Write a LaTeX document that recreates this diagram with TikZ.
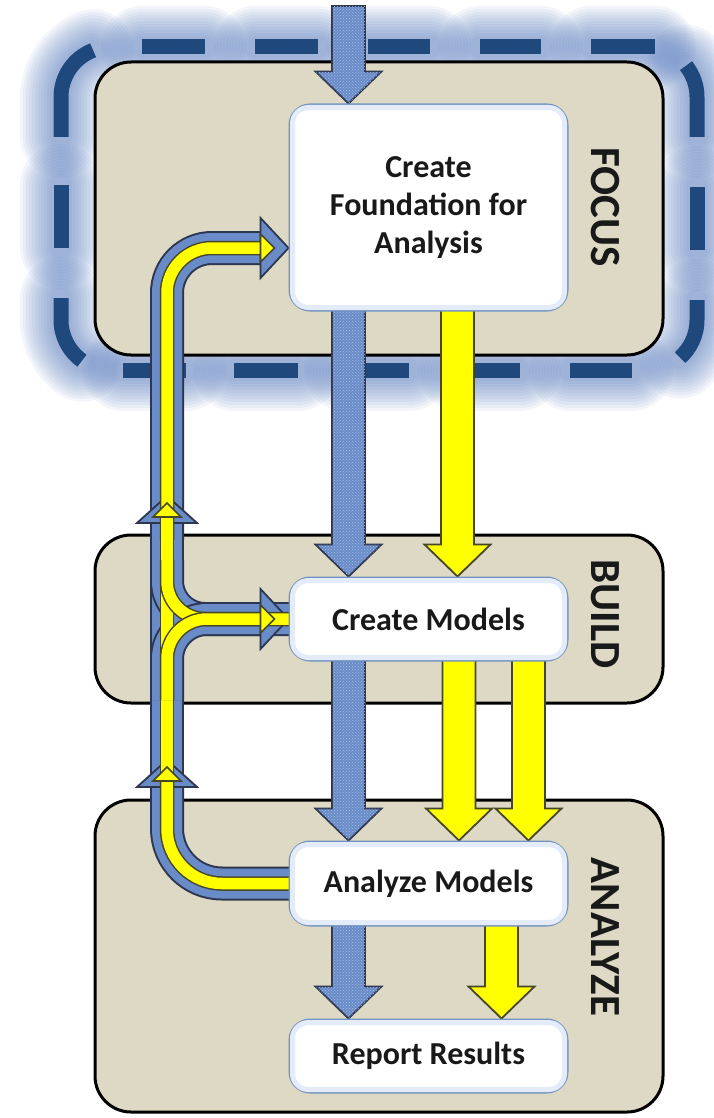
\documentclass[tikz,border=0pt]{standalone}
\usepackage{fontspec}
\setmainfont{Carlito}
\usetikzlibrary{patterns}
\pgfdeclarelayer{bg}
\pgfdeclarelayer{flow}
\pgfsetlayers{bg,flow,main}

\definecolor{paneltan}{RGB}{221,217,196}
\definecolor{dashblue}{RGB}{31,73,125}
\definecolor{glowblue}{RGB}{95,130,195}
\definecolor{boxline}{RGB}{115,148,195}
\definecolor{boxhalo}{RGB}{228,236,249}
\definecolor{flowblue}{RGB}{105,140,200}
\definecolor{flowlight}{RGB}{165,188,230}
\definecolor{flowedge}{RGB}{45,55,80}
\definecolor{flowyellow}{RGB}{255,255,0}
\definecolor{yedge}{RGB}{70,70,40}
\definecolor{inktext}{RGB}{25,25,25}

% straight block arrow pointing down, from #2 to tip #3
\newcommand\blockdown[3]{%
  \path[#1] ([shift={(-16.5,-6)}]#2) -- ([shift={(-16.5,-32)}]#3) -- ([shift={(-33,-32)}]#3) -- (#3)
    -- ([shift={(33,-32)}]#3) -- ([shift={(16.5,-32)}]#3) -- ([shift={(16.5,-6)}]#2) -- cycle;}
% feedback band: blue outer stroke
\newcommand\loopband[2]{%
  \draw[fbedge, rounded corners=#1] #2;
  \draw[fbcore, rounded corners=#1] #2;}
% feedback band: yellow inner stroke
\newcommand\loopyellow[2]{%
  \draw[fyedge, rounded corners=#1] #2;
  \draw[fycore, rounded corners=#1] #2;}
% the dashes of the frame around the focus phase
\newcommand\framedashes[1]{%
  \foreach \xa/\xb in {142/205,255/318,368/430,480/541,591/655}{\draw[#1] (\xa,47) -- (\xb,47);}
  \foreach \xa/\xb in {123/186,234/298,345/409,459/520,570/632}{\draw[#1] (\xa,370) -- (\xb,370);}
  \draw[#1] (61,185) -- (61,248);
  \draw[#1] (697,187) -- (697,250);
  \draw[#1] (61,137) -- (61,97) .. controls (61,76.3) and (73.8,57.7) .. (93.1,50.3);
  \draw[#1] (697,137) -- (697,97) .. controls (697,85.6) and (693.1,74.6) .. (686,65.7);
  \draw[#1] (61,298) -- (61,320) .. controls (61,336.1) and (68.9,351.3) .. (82,360.7);
  \draw[#1] (697,300) -- (697,320) .. controls (697,334.4) and (690.8,348.1) .. (680,357.6);
}

\begin{document}
\begin{tikzpicture}[x=1pt,y=-1pt,
  panel/.style={draw=black, line width=3pt, fill=paneltan, rounded corners=36pt, inner sep=0pt},
  stepbox/.style={draw=boxline, line width=3pt, fill=white, rounded corners=20pt, inner sep=0pt,
    minimum width=277pt, text=inktext, align=center,
    font=\fontsize{32}{38}\selectfont\bfseries},
  phase/.style={rotate=-90, text=inktext, inner sep=0pt, font=\fontsize{43}{43}\selectfont\bfseries},
  blueblock/.style={fill=flowblue, draw=flowedge, line width=1.8pt,
    postaction={pattern=crosshatch dots, pattern color=flowlight}},
  yellowblock/.style={fill=flowyellow, draw=yedge, line width=1.8pt},
  fbedge/.style={draw=flowedge, line width=34pt},
  fbcore/.style={draw=flowblue, line width=30pt},
  fyedge/.style={draw=yedge, line width=14.5pt},
  fycore/.style={draw=flowyellow, line width=11.5pt},
  bluehead/.style={fill=flowblue, draw=flowedge, line width=1.8pt},
  yellowhead/.style={fill=flowyellow, draw=yedge, line width=1.6pt}]

\useasboundingbox (0,0) rectangle (713,1118);

% process steps
\node[stepbox, minimum height=205pt] (found) at (428.5,207.5) {Create\\Foundation for\\Analysis};
\node[stepbox, minimum height=82pt] (models) at (428.5,619) {Create Models};
\node[stepbox, minimum height=83pt] (analyze) at (428.5,883.5) {Analyze Models};
\node[stepbox, minimum height=72pt] (report) at (428.5,1056) {Report Results};
\foreach \b in {found,models,analyze,report}{
  \draw[boxhalo, line width=5pt, rounded corners=16pt]
    ([shift={(4,4)}]\b.north west) rectangle ([shift={(-4,-4)}]\b.south east);
}

% phase labels
\node[phase] (focusL) at (605,207) {FOCUS};
\node[phase] (buildL) at (605,614) {BUILD};
\node[phase] (analyzeL) at (605,937) {ANALYZE};

\begin{pgfonlayer}{bg}
  \fill[white] (0,0) rectangle (713,1118);
  % soft halo behind the dashed frame
  \foreach \w in {82,76,...,22}{
    \framedashes{glowblue, line width=\w pt, opacity=0.075, line cap=round}
  }
  % phase panels
  \node[panel, minimum width=568pt, minimum height=293pt] (focusP) at (379,208.5) {};
  \node[panel, minimum width=568pt, minimum height=168pt] (buildP) at (379,619) {};
  \node[panel, minimum width=568pt, minimum height=312pt] (analyzeP) at (379,956) {};
  % dashed frame around the focus phase
  \framedashes{dashblue, line width=15pt}
\end{pgfonlayer}

\begin{pgfonlayer}{flow}
  % anchor points of the flow arrows
  \coordinate (bx) at (348.5,0);
  \coordinate (ya) at (457.5,0);
  \coordinate (yb) at (459,0);
  \coordinate (yc) at (528.5,0);
  \coordinate (yd) at (501.5,0);
  \coordinate (inflow) at (348.5,12);
  \coordinate (b1t) at (found.north -| bx);
  \coordinate (b2s) at (found.south -| bx);
  \coordinate (b2t) at (models.north -| bx);
  \coordinate (b3s) at (models.south -| bx);
  \coordinate (b3t) at (analyze.north -| bx);
  \coordinate (b4s) at (analyze.south -| bx);
  \coordinate (b4t) at (report.north -| bx);
  \coordinate (y1s) at (found.south -| ya);
  \coordinate (y1t) at (models.north -| ya);
  \coordinate (y2s) at (models.south -| yb);
  \coordinate (y2t) at (analyze.north -| yb);
  \coordinate (y3s) at (models.south -| yc);
  \coordinate (y3t) at (analyze.north -| yc);
  \coordinate (y4s) at (analyze.south -| yd);
  \coordinate (y4t) at (report.north -| yd);

  % main flow (blue) and information flow (yellow)
  \blockdown{blueblock}{inflow}{b1t}
  \blockdown{blueblock}{b2s}{b2t}
  \blockdown{blueblock}{b3s}{b3t}
  \blockdown{blueblock}{b4s}{b4t}
  \blockdown{yellowblock}{y1s}{y1t}
  \blockdown{yellowblock}{y2s}{y2t}
  \blockdown{yellowblock}{y3s}{y3t}
  \blockdown{yellowblock}{y4s}{y4t}

  % feedback loops on the left
  \coordinate (fbin1) at (found.west |- 0,248);
  \coordinate (fbin2) at (models.west);
  \coordinate (fbout1) at ([xshift=6pt]analyze.west);
  \coordinate (fbout2) at ([xshift=6pt]models.west);
  \coordinate (upA) at (167,523);
  \coordinate (upB) at (167,787);

  \loopband{45pt}{(167,540) -- (167,248) -- (262,248)}
  \loopband{0pt}{(167,800) -- (upA)}
  \loopband{55pt}{(fbout1) -- (167,883.5) -- (upB)}
  \loopband{38pt}{(fbout2) -- (167,619) -- (167,560)}
  \loopband{40pt}{(167,700) -- (167,619) -- (262,619)}

  \path[bluehead] ([shift={(-28,-30)}]fbin1) -- (fbin1) -- ([shift={(-28,30)}]fbin1) -- cycle;
  \path[bluehead] ([shift={(-28,-30)}]fbin2) -- (fbin2) -- ([shift={(-28,30)}]fbin2) -- cycle;
  \path[bluehead] ([shift={(-30,0)}]upA) -- ([shift={(0,-27)}]upA) -- ([shift={(30,0)}]upA) -- cycle;
  \path[bluehead] ([shift={(-30,0)}]upB) -- ([shift={(0,-27)}]upB) -- ([shift={(30,0)}]upB) -- cycle;

  \loopyellow{45pt}{(167,540) -- (167,248) -- (262,248)}
  \loopyellow{0pt}{(167,800) -- (167,517)}
  \loopyellow{55pt}{(fbout1) -- (167,883.5) -- (167,781)}
  \loopyellow{38pt}{(fbout2) -- (167,619) -- (167,560)}
  \loopyellow{40pt}{(167,700) -- (167,619) -- (262,619)}

  \path[yellowhead] ([shift={(-28,-14)}]fbin1) -- ([shift={(-14,0)}]fbin1) -- ([shift={(-28,14)}]fbin1) -- cycle;
  \path[yellowhead] ([shift={(-28,-14)}]fbin2) -- ([shift={(-14,0)}]fbin2) -- ([shift={(-28,14)}]fbin2) -- cycle;
  \path[yellowhead] ([shift={(-14,-6)}]upA) -- ([shift={(0,-20)}]upA) -- ([shift={(14,-6)}]upA) -- cycle;
  \path[yellowhead] ([shift={(-14,-6)}]upB) -- ([shift={(0,-20)}]upB) -- ([shift={(14,-6)}]upB) -- cycle;
\end{pgfonlayer}
\end{tikzpicture}
\end{document}
